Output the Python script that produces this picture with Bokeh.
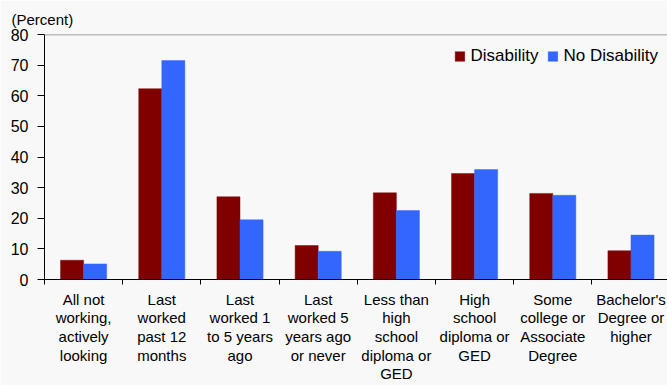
from bokeh.plotting import figure
from bokeh.models import (Range1d, FixedTicker, ColumnDataSource, Legend, LegendItem,
                          Span, Title)
from bokeh.transform import dodge
from bokeh.embed import file_html
from bokeh.resources import INLINE

categories = [
    "All not\nworking,\nactively\nlooking",
    "Last\nworked\npast 12\nmonths",
    "Last\nworked 1\nto 5 years\nago",
    "Last\nworked 5\nyears ago\nor never",
    "Less than\nhigh\nschool\ndiploma or\nGED",
    "High\nschool\ndiploma or\nGED",
    "Some\ncollege or\nAssociate\nDegree",
    "Bachelor's\nDegree or\nhigher",
]
disability = [6.3, 62.3, 27.0, 11.1, 28.3, 34.6, 28.1, 9.4]
no_disability = [5.1, 71.5, 19.5, 9.2, 22.5, 35.9, 27.5, 14.5]
y_ticks = [0, 10, 20, 30, 40, 50, 60, 70, 80]
series_names = ["Disability", "No Disability"]
y_unit = "(Percent)"

FONT = "Liberation Sans"
BG = "#f8f8f8"
C_DIS = "#800000"
C_NO = "#3366ff"

positions = list(range(1, len(categories) + 1))
source = ColumnDataSource(dict(x=positions, dis=disability, nodis=no_disability))

p = figure(width=667, height=385, output_backend="svg", toolbar_location=None,
           x_range=Range1d(0.5, 8.467), y_range=Range1d(0, 80),
           min_border_left=44, min_border_top=34, min_border_right=0,
           min_border_bottom=106)
p.background_fill_color = BG
p.border_fill_color = BG
p.outline_line_color = None
p.xgrid.visible = False
p.ygrid.visible = False

p.title = Title(text=y_unit, align="left", offset=-33, standoff=13,
                text_font=FONT, text_font_size="15px", text_font_style="normal",
                text_color="black")

bw = 0.295
r1 = p.vbar(x=dodge("x", -0.1475, range=p.x_range), top="dis", width=bw, source=source,
            fill_color=C_DIS, line_color=C_DIS, line_alpha=0.45)
r2 = p.vbar(x=dodge("x", 0.1475, range=p.x_range), top="nodis", width=bw, source=source,
            fill_color=C_NO, line_color=C_NO, line_alpha=0.45)

# x axis
p.xaxis.ticker = FixedTicker(ticks=positions,
                             minor_ticks=[x - 0.5 for x in positions] + [positions[-1] + 0.5])
p.xaxis.major_label_overrides = {pos: lab for pos, lab in zip(positions, categories)}
p.xaxis.major_tick_line_color = None
p.xaxis.major_tick_out = 0
p.xaxis.major_tick_in = 0
p.xaxis.minor_tick_line_color = "black"
p.xaxis.minor_tick_out = 5
p.xaxis.minor_tick_in = 0
p.xaxis.axis_line_color = "black"
p.xaxis.major_label_standoff = 6
p.xaxis.major_label_text_font = FONT
p.xaxis.major_label_text_font_size = "15px"
p.xaxis.major_label_text_color = "black"
p.xaxis.major_label_text_line_height = 1.1

# y axis
p.yaxis.ticker = FixedTicker(ticks=y_ticks)
p.yaxis.minor_tick_line_color = None
p.yaxis.major_tick_out = 7
p.yaxis.major_tick_in = 0
p.yaxis.major_tick_line_color = "black"
p.yaxis.axis_line_color = "black"
p.yaxis.major_label_standoff = 9
p.yaxis.major_label_text_font = FONT
p.yaxis.major_label_text_font_size = "16px"
p.yaxis.major_label_text_color = "black"

# top border line
p.add_layout(Span(location=80, dimension="width", line_color="#808080", line_width=1.5))

legend = Legend(items=[LegendItem(label=series_names[0], renderers=[r1]),
                       LegendItem(label=series_names[1], renderers=[r2])],
                location="top_right", orientation="horizontal",
                background_fill_alpha=0, border_line_color=None,
                glyph_width=12, glyph_height=12, label_standoff=5, spacing=8,
                margin=9, padding=0, label_text_font=FONT, label_text_font_size="17px",
                label_text_color="black", label_height=26)
p.add_layout(legend)

open("out.html", "w").write(file_html(p, INLINE))
